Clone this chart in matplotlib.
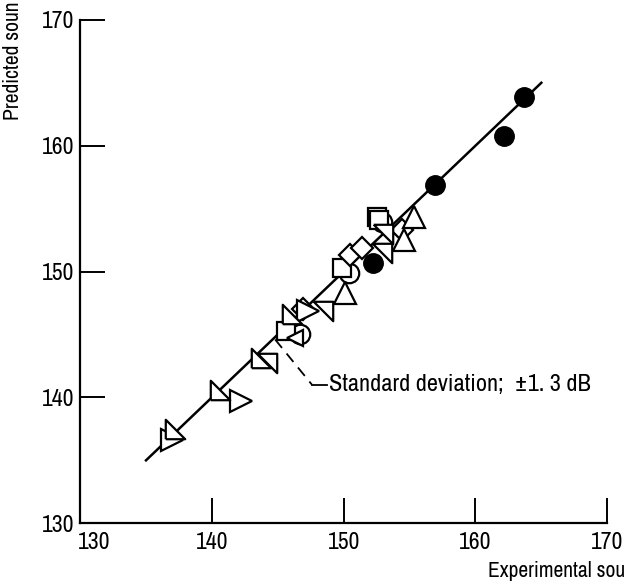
import numpy as np
import matplotlib
matplotlib.use("Agg")
import matplotlib.pyplot as plt
import matplotlib.transforms as mtransforms
from matplotlib import font_manager

names = sorted({f.name for f in font_manager.fontManager.ttflist})
narrow = [n for n in names if 'Narrow' in n or 'Condensed' in n]
plt.rcParams['font.family'] = narrow[:1] + ['DejaVu Sans']
plt.rcParams['font.stretch'] = 'condensed'

# experimental (x) vs predicted (y), dB
filled_x = [163.7, 162.2, 156.95, 152.2]
filled_y = [163.9, 160.8, 156.9, 150.7]
circle_x = [152.9, 150.4, 146.7]
circle_y = [153.9, 149.9, 145.0]
square_x = [152.5, 152.7, 149.9, 145.6]
square_y = [154.3, 154.1, 150.3, 145.3]
diamond_x = [150.5, 151.4, 154.4, 146.9]
diamond_y = [151.3, 151.9, 153.3, 147.0]
up_x = [155.3, 154.6, 150.1]
up_y = [154.3, 152.5, 148.3]
right_x = [142.2, 137.0, 147.3]
right_y = [139.7, 136.6, 146.9]
left_x = [146.3]
left_y = [144.7]
ll_x = [140.6, 137.2, 143.7, 146.1]
ll_y = [140.6, 137.5, 143.1, 146.6]
ur_x = [148.4, 152.9, 153.0, 144.2]
ur_y = [146.9, 151.5, 153.0, 142.7]

fit_x = [135, 165]
fit_y = [135, 165]

lower_left = [(-1, -1), (-1, 1), (1, -1), (-1, -1)]
upper_right = [(-1, 1), (1, 1), (1, -1), (-1, 1)]

fig = plt.figure(figsize=(6.26, 5.84), dpi=100)
ax = fig.add_axes([0.128, 0.104, 0.842, 0.862])

ax.plot(fit_x, fit_y, color='black', lw=1.8, zorder=1)

open_kw = dict(linestyle='none', mfc='white', mec='black', mew=1.6, zorder=3)
ax.plot(filled_x, filled_y, 'o', color='black', ms=14, linestyle='none', zorder=3)
ax.plot(circle_x, circle_y, 'o', ms=14, **open_kw)
ax.plot(square_x, square_y, 's', ms=13, **open_kw)
ax.plot(diamond_x, diamond_y, 'D', ms=11, **open_kw)
ax.plot(up_x, up_y, '^', ms=16, **open_kw)
ax.plot(right_x, right_y, '>', ms=16, **open_kw)
ax.plot(left_x, left_y, '<', ms=12, **open_kw)
ax.plot(ll_x, ll_y, marker=lower_left, ms=14, **open_kw)
ax.plot(ur_x, ur_y, marker=upper_right, ms=14, **open_kw)

# annotation
ax.plot([144.8, 147.6], [144.6, 141.0], color='black', lw=1.3, ls=(0, (6, 4)))
ax.plot([147.6, 148.7], [141.0, 141.0], color='black', lw=1.3)
ax.text(148.9, 141.0, 'Standard deviation;  \u00b11. 3 dB', fontsize=17.5, va='center', ha='left')

ax.set_xlim(130, 170)
ax.set_ylim(130, 170)
ax.set_xticks([130, 140, 150, 160, 170])
ax.set_yticks([130, 140, 150, 160, 170])
ax.spines['top'].set_visible(False)
ax.spines['right'].set_visible(False)
for s in ['left', 'bottom']:
    ax.spines[s].set_linewidth(1.6)
ax.tick_params(direction='in', length=18, width=1.4, labelsize=17)
ax.tick_params(axis='x', pad=6)
ax.tick_params(axis='y', pad=4)

# first x label sits a bit right of the corner
lbl = ax.get_xticklabels()[0]
lbl.set_transform(lbl.get_transform() + mtransforms.ScaledTranslation(0.14, 0, fig.dpi_scale_trans))

fig.text(0.998, 0.005, 'Experimental sou', fontsize=15.5, ha='right', va='bottom')
fig.text(0.005, 0.998, 'Predicted soun', fontsize=15.5, rotation=90, ha='left', va='top')

fig.savefig('out.png', dpi=100)
